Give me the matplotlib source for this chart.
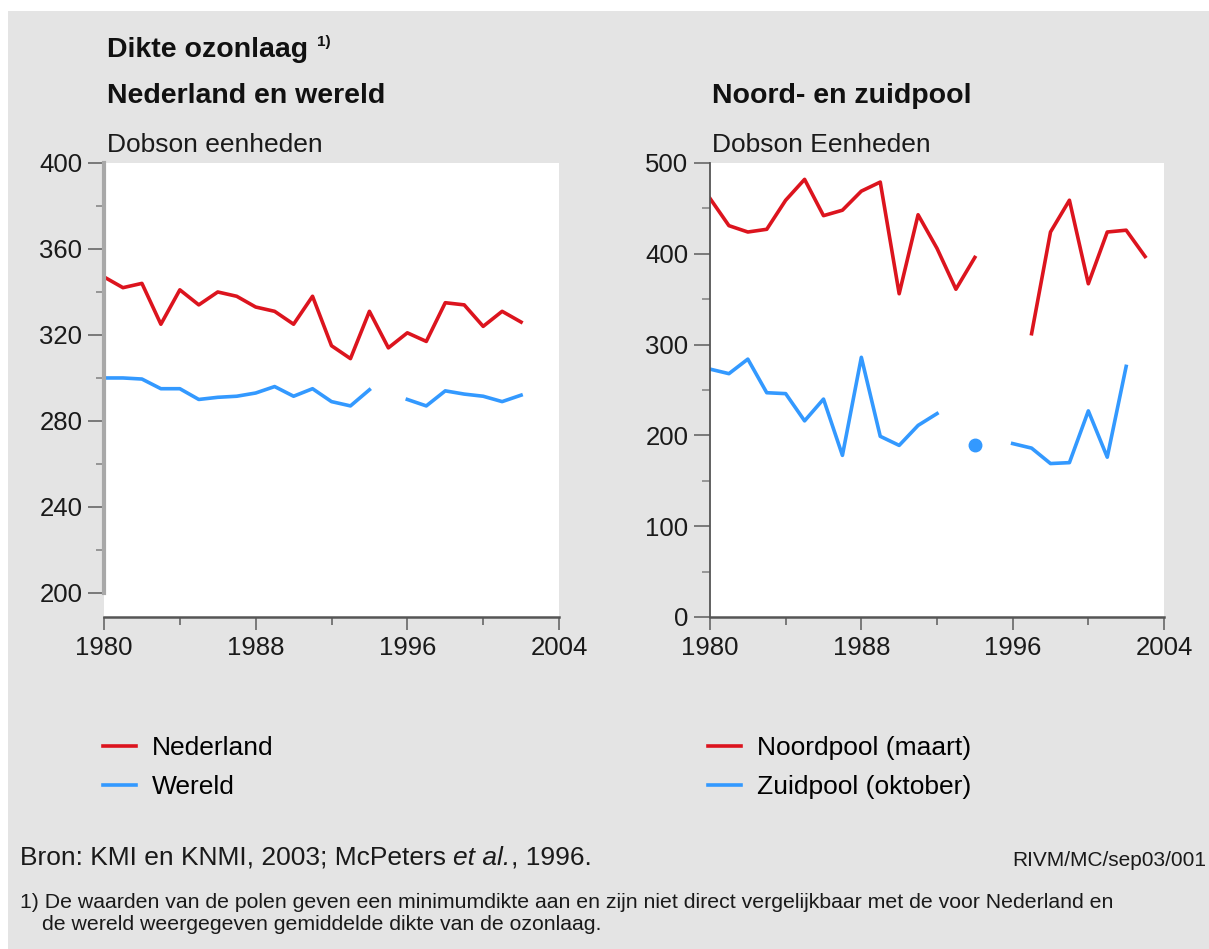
import numpy as np
import matplotlib.pyplot as plt
from matplotlib.patches import Rectangle

plt.rcParams["font.family"] = ["Liberation Sans", "DejaVu Sans"]

nan = np.nan
years = list(range(1980, 2004))

# Dobson eenheden
nederland = [347, 342, 344, 325, 341, 334, 340, 338, 333, 331, 325, 338,
             315, 309, 331, 314, 321, 317, 335, 334, 324, 331, 326, nan]
wereld = [300, 300, 299.5, 295, 295, 290, 291, 291.5, 293, 296, 291.5, 295,
          289, 287, 294.5, nan, 290, 287, 294, 292.5, 291.5, 289, 292, nan]
noordpool = [461, 431, 424, 427, 459, 482, 442, 448, 469, 479, 356, 443,
             406, 361, 396, nan, nan, 312, 424, 459, 367, 424, 426, 397]
zuidpool = [273, 268, 284, 247, 246, 216, 240, 178, 286, 199, 189, 211,
            224, nan, 189, nan, 191, 186, 169, 170, 227, 176, 276, nan]

red = "#dc141e"
blue = "#3399ff"
bg = "#e4e4e4"
txt = "#1a1a1a"
W, H = 1209, 949


def fx(px):
    return px / W


def fy(py):
    return 1 - py / H


def plot_series(ax, vals, color, label):
    ax.plot(years, vals, color=color, lw=2.6, label=label)
    # a value with no neighbours would not show as a line, give it a dot
    for i, v in enumerate(vals):
        if np.isnan(v):
            continue
        left = i > 0 and not np.isnan(vals[i - 1])
        right = i < len(vals) - 1 and not np.isnan(vals[i + 1])
        if not left and not right:
            ax.plot([years[i]], [v], "o", color=color, ms=9, label="_nolegend_")


fig = plt.figure(figsize=(W / 100, H / 100), dpi=100, facecolor="white")
fig.patches.append(Rectangle((fx(8), 0), 1, fy(11), transform=fig.transFigure,
                             facecolor=bg, edgecolor="none", zorder=-10))

ax1 = fig.add_axes([fx(104), fy(617), fx(559) - fx(104), fy(163) - fy(617)])
ax2 = fig.add_axes([fx(710), fy(617), fx(1164) - fx(710), fy(163) - fy(617)])

plot_series(ax1, nederland, red, "Nederland")
plot_series(ax1, wereld, blue, "Wereld")
plot_series(ax2, noordpool, red, "Noordpool (maart)")
plot_series(ax2, zuidpool, blue, "Zuidpool (oktober)")

ax1.set_ylim(188.8, 400)
ax1.set_yticks(np.arange(200, 401, 40))
ax1.set_yticks(np.arange(220, 400, 40), minor=True)
ax2.set_ylim(0, 500)
ax2.set_yticks(np.arange(0, 501, 100))
ax2.set_yticks(np.arange(50, 500, 100), minor=True)

for ax in (ax1, ax2):
    ax.set_facecolor("white")
    ax.set_xlim(1980, 2004)
    ax.set_xticks([1980, 1988, 1996, 2004])
    ax.set_xticks([1984, 1992, 2000], minor=True)
    ax.spines["top"].set_visible(False)
    ax.spines["right"].set_visible(False)
    ax.spines["bottom"].set_color("#555555")
    ax.spines["bottom"].set_linewidth(1.8)
    ax.tick_params(axis="both", which="major", direction="out", colors="#666666",
                   labelcolor=txt, labelsize=18.5, width=1.2)
    ax.tick_params(axis="x", which="major", length=9, pad=5)
    ax.tick_params(axis="x", which="minor", length=6, width=1.2, colors="#666666")
    ax.tick_params(axis="y", which="major", length=11.5, pad=4)
    ax.tick_params(axis="y", which="minor", length=6, width=1.2, colors="#888888")

ax1.spines["left"].set_bounds(200, 400)
ax1.spines["left"].set_color("#a8a8a8")
ax1.spines["left"].set_linewidth(3)
ax2.spines["left"].set_color("#555555")
ax2.spines["left"].set_linewidth(1.3)

# titles and unit labels
fig.text(fx(107), fy(50), "Dikte ozonlaag", fontsize=20.5, fontweight="bold",
         va="center", color="#111111")
fig.text(fx(317), fy(42), "1)", fontsize=11, fontweight="bold",
         va="center", color="#111111")
fig.text(fx(107), fy(96), "Nederland en wereld", fontsize=20.5, fontweight="bold",
         va="center", color="#111111")
fig.text(fx(712), fy(96), "Noord- en zuidpool", fontsize=20.5, fontweight="bold",
         va="center", color="#111111")
fig.text(fx(107), fy(145), "Dobson eenheden", fontsize=19, va="center", color=txt)
fig.text(fx(712), fy(145), "Dobson Eenheden", fontsize=19, va="center", color=txt)

# legends
leg_kw = dict(loc="upper left", frameon=False, fontsize=19, handlelength=1.25,
              handletextpad=0.6, labelspacing=0.58, borderpad=0, borderaxespad=0,
              bbox_transform=fig.transFigure)
ax1.legend(bbox_to_anchor=(fx(103), fy(736)), **leg_kw)
ax2.legend(bbox_to_anchor=(fx(708), fy(736)), **leg_kw)

# source line, "et al." in italics
renderer = fig.canvas.get_renderer()
x = fx(20)
for part, style in [("Bron: KMI en KNMI, 2003; McPeters ", "normal"),
                    ("et al.", "italic"), (", 1996.", "normal")]:
    t = fig.text(x, fy(858), part, fontsize=19, style=style, va="center", color=txt)
    bb = t.get_window_extent(renderer)
    x = x + bb.width / W

fig.text(fx(1206), fy(860), "RIVM/MC/sep03/001", fontsize=15, ha="right",
         va="center", color=txt)
fig.text(fx(20), fy(903), "1) De waarden van de polen geven een minimumdikte aan en zijn niet "
         "direct vergelijkbaar met de voor Nederland en", fontsize=15.3, va="center",
         color=txt)
fig.text(fx(42), fy(925), "de wereld weergegeven gemiddelde dikte van de ozonlaag.",
         fontsize=15.3, va="center", color=txt)

plt.savefig("out.png", dpi=100, facecolor=fig.get_facecolor())
plt.close()
